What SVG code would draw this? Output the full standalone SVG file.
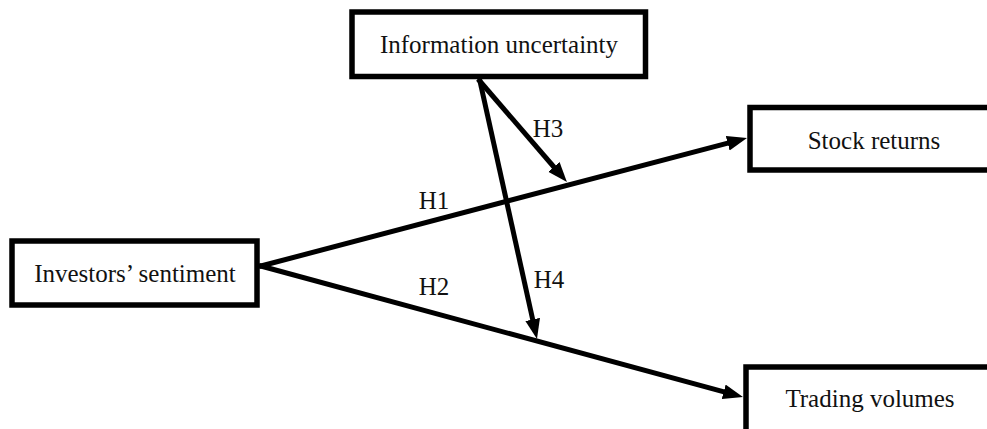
<svg xmlns="http://www.w3.org/2000/svg" width="987" height="429" viewBox="0 0 987 429">
  <style>
    .box { fill: #ffffff; stroke: #000000; stroke-width: 5.5; }
    .lbl { font-family: "Liberation Serif", "Times New Roman", serif; font-size: 25px; fill: #111111; text-anchor: middle; }
    .conn { stroke: #000000; stroke-width: 5; fill: none; marker-end: url(#arrow); }
  </style>
  <defs>
    <marker id="arrow" markerUnits="userSpaceOnUse" markerWidth="22" markerHeight="16" refX="8" refY="7.5" orient="auto">
      <path d="M0,0 L20,7.5 L0,15 z" fill="#000000"/>
    </marker>
  </defs>
  <rect width="987" height="429" fill="#ffffff"/>

  <g id="node-info">
    <rect class="box" x="352" y="12" width="293.5" height="64.5"/>
    <text class="lbl" x="499" y="53">Information uncertainty</text>
  </g>
  <g id="node-stock">
    <rect class="box" x="750" y="107.5" width="260" height="62.5"/>
    <text class="lbl" x="874" y="149">Stock returns</text>
  </g>
  <g id="node-sentiment">
    <rect class="box" x="12" y="241" width="245" height="64"/>
    <text class="lbl" x="135" y="282">Investors’ sentiment</text>
  </g>
  <g id="node-trading">
    <rect class="box" x="746" y="367" width="260" height="80"/>
    <text class="lbl" x="870" y="407">Trading volumes</text>
  </g>

  <g id="connectors">
    <line class="conn" x1="259" y1="266.5" x2="735.4" y2="141.1"/>
    <line class="conn" x1="259" y1="265.5" x2="731.4" y2="393.9"/>
    <line class="conn" x1="478" y1="79" x2="559.1" y2="173"/>
    <line class="conn" x1="479.5" y1="79" x2="534.4" y2="327.3"/>
    <text class="lbl" x="434" y="209">H1</text>
    <text class="lbl" x="434" y="295">H2</text>
    <text class="lbl" x="548" y="137">H3</text>
    <text class="lbl" x="549" y="288">H4</text>
  </g>
</svg>
